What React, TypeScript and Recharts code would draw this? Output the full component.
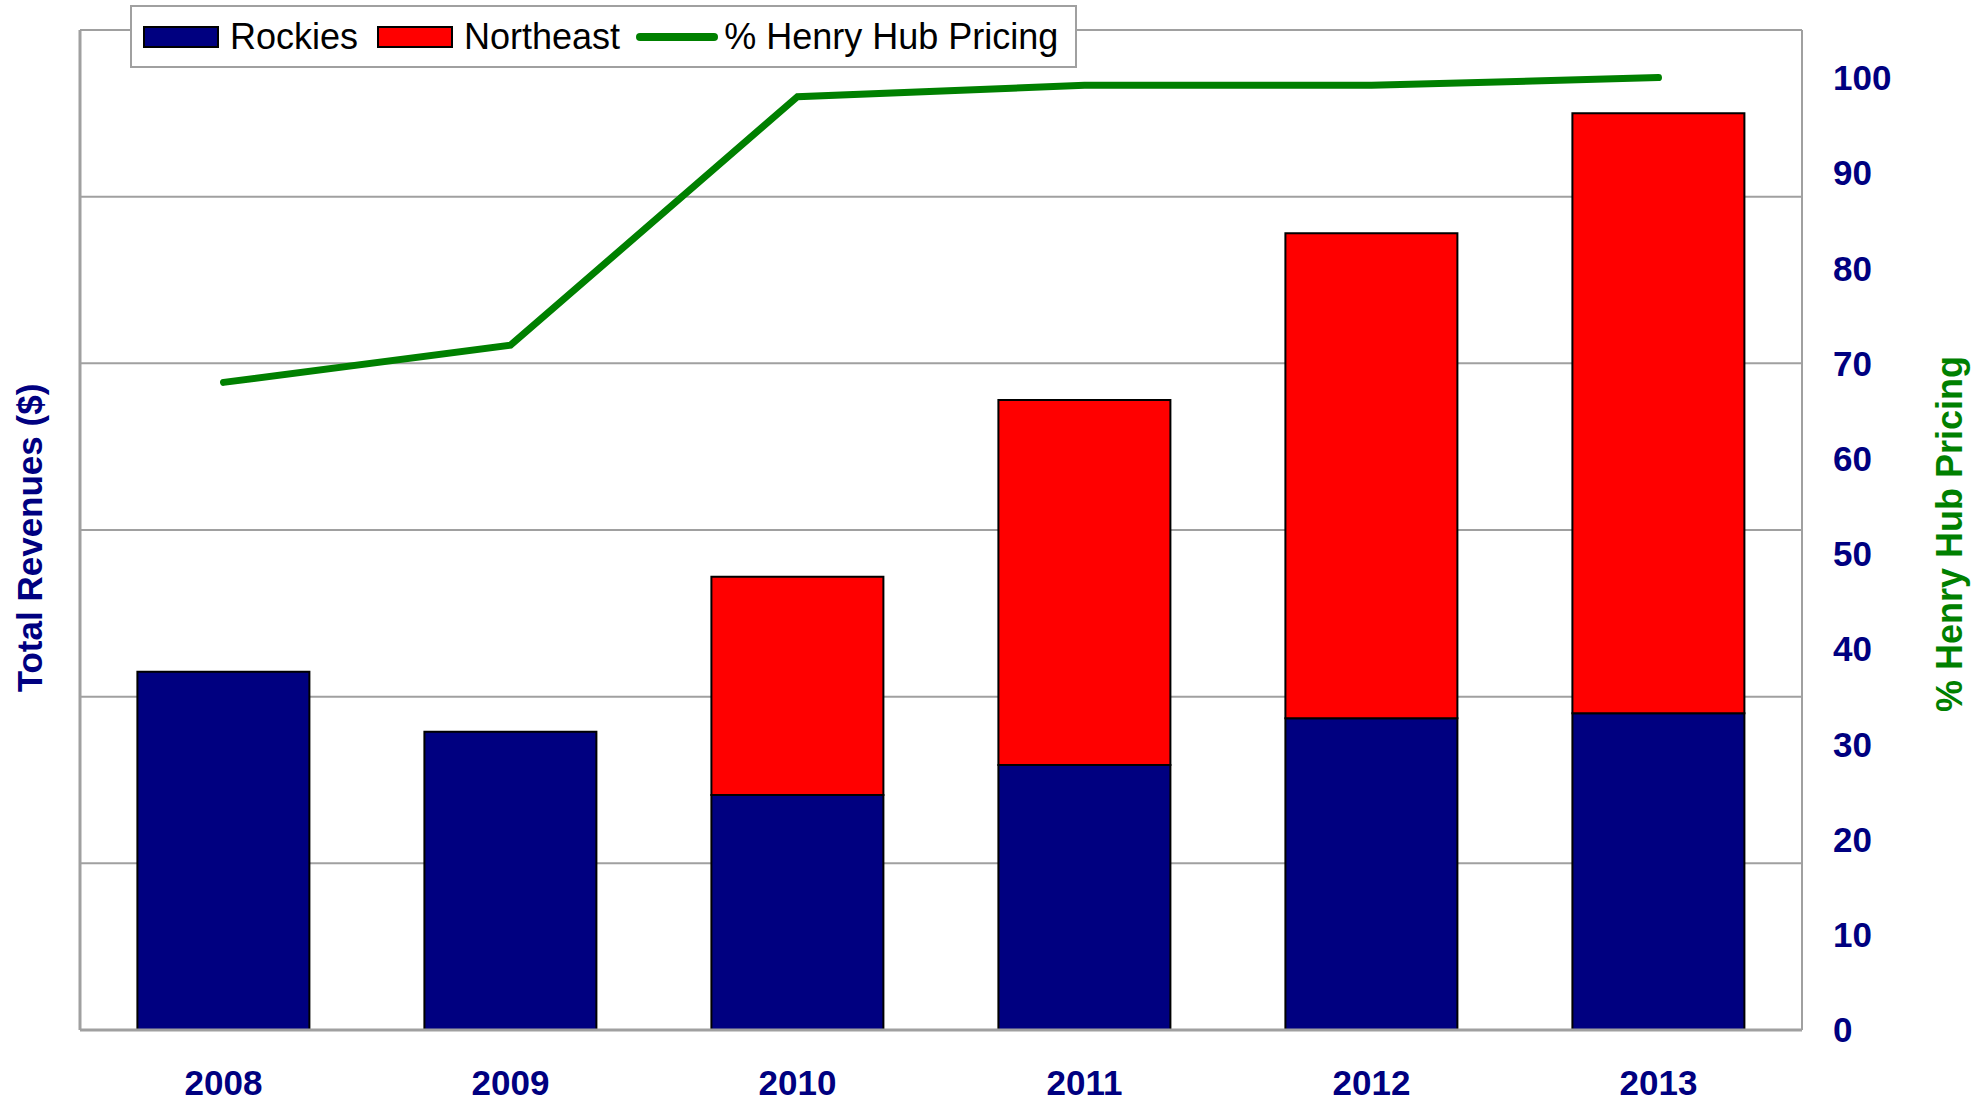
import { Bar, ComposedChart, CartesianGrid, Label, Line, XAxis, YAxis } from "recharts"

const years = ["2008", "2009", "2010", "2011", "2012", "2013"]
const rockies = [2.15, 1.79, 1.41, 1.59, 1.87, 1.9]
const northeast = [0, 0, 1.31, 2.19, 2.91, 3.6]
const henryHub = [68, 71.9, 98, 99.2, 99.2, 100]
const leftTicks = [0, 1, 2, 3, 4, 5, 6]
const rightTicks = [0, 10, 20, 30, 40, 50, 60, 70, 80, 90, 100]

const data = years.map((year, i) => ({
  year,
  rockies: rockies[i],
  northeast: northeast[i],
  henryHub: henryHub[i],
}))

const NAVY = "#000080"
const RED = "#FF0000"
const GREEN = "#008000"
const GRID = "#a0a0a0"
const FONT = "'Liberation Sans', Arial, sans-serif"

// legend drawn as an overlay so it doesn't eat into the plot height
function ChartLegend() {
  const swatch = (color: string) => (
    <span
      style={{
        display: "inline-block",
        width: 72,
        height: 18,
        background: color,
        border: "2px solid #000",
        marginRight: 11,
      }}
    />
  )
  return (
    <div
      style={{
        position: "absolute",
        left: 130,
        top: 5,
        boxSizing: "border-box",
        width: 947,
        height: 63,
        border: `2px solid ${GRID}`,
        background: "#fff",
        display: "flex",
        alignItems: "center",
        paddingLeft: 11,
        fontFamily: FONT,
        fontSize: 36,
        color: "#000",
        whiteSpace: "nowrap",
      }}
    >
      {swatch(NAVY)}
      <span style={{ marginRight: 19 }}>Rockies</span>
      {swatch(RED)}
      <span style={{ marginRight: 16 }}>Northeast</span>
      <span
        style={{
          display: "inline-block",
          width: 82,
          height: 8,
          borderRadius: 4,
          background: GREEN,
          marginRight: 6,
        }}
      />
      <span>% Henry Hub Pricing</span>
    </div>
  )
}

export default function App() {
  return (
    <div style={{ position: "absolute", left: 0, top: 0, width: 1986, height: 1102 }}>
      <ComposedChart
        width={1986}
        height={1102}
        data={data}
        margin={{ top: 30, right: 0, bottom: 0, left: 0 }}
        barCategoryGap="20%"
      >
        <CartesianGrid yAxisId="left" vertical={false} stroke={GRID} strokeWidth={2} />
        <XAxis
          dataKey="year"
          height={72}
          axisLine={{ stroke: GRID, strokeWidth: 3 }}
          tickLine={false}
          tickSize={0}
          tickMargin={40}
          tick={{ fill: NAVY, fontFamily: FONT, fontWeight: "bold", fontSize: 35 }}
        />
        <YAxis
          yAxisId="left"
          width={80}
          domain={[0, 6]}
          ticks={leftTicks}
          tick={() => <g />}
          tickLine={false}
          axisLine={{ stroke: GRID, strokeWidth: 3 }}
        >
          <Label
            content={({ viewBox }: any) => {
              const cx = viewBox.x + 29
              const cy = viewBox.y + viewBox.height / 2 + 8
              return (
                <text
                  x={cx}
                  y={cy}
                  transform={`rotate(-90 ${cx} ${cy})`}
                  textAnchor="middle"
                  dominantBaseline="central"
                  fill={NAVY}
                  fontFamily={FONT}
                  fontWeight="bold"
                  fontSize={35}
                >
                  Total Revenues ($)
                </text>
              )
            }}
          />
        </YAxis>
        <YAxis
          yAxisId="right"
          orientation="right"
          width={184}
          domain={[0, 105]}
          ticks={rightTicks}
          tickLine={false}
          tickSize={0}
          tickMargin={31}
          axisLine={{ stroke: GRID, strokeWidth: 2 }}
          tick={{ fill: NAVY, fontFamily: FONT, fontWeight: "bold", fontSize: 35, textAnchor: "start" }}
        >
          <Label
            content={({ viewBox }: any) => {
              const cx = viewBox.x + 147
              const cy = viewBox.y + viewBox.height / 2 + 4
              return (
                <text
                  x={cx}
                  y={cy}
                  transform={`rotate(-90 ${cx} ${cy})`}
                  textAnchor="middle"
                  dominantBaseline="central"
                  fill={GREEN}
                  fontFamily={FONT}
                  fontWeight="bold"
                  fontSize={36}
                >
                  % Henry Hub Pricing
                </text>
              )
            }}
          />
        </YAxis>
        <Bar
          yAxisId="left"
          dataKey="rockies"
          name="Rockies"
          stackId="rev"
          fill={NAVY}
          stroke="#000"
          strokeWidth={2}
          isAnimationActive={false}
        />
        <Bar
          yAxisId="left"
          dataKey="northeast"
          name="Northeast"
          stackId="rev"
          fill={RED}
          stroke="#000"
          strokeWidth={2}
          isAnimationActive={false}
        />
        <Line
          yAxisId="right"
          dataKey="henryHub"
          name="% Henry Hub Pricing"
          stroke={GREEN}
          strokeWidth={7}
          strokeLinecap="round"
          dot={false}
          activeDot={false}
          isAnimationActive={false}
        />
      </ComposedChart>
      <ChartLegend />
    </div>
  )
}
